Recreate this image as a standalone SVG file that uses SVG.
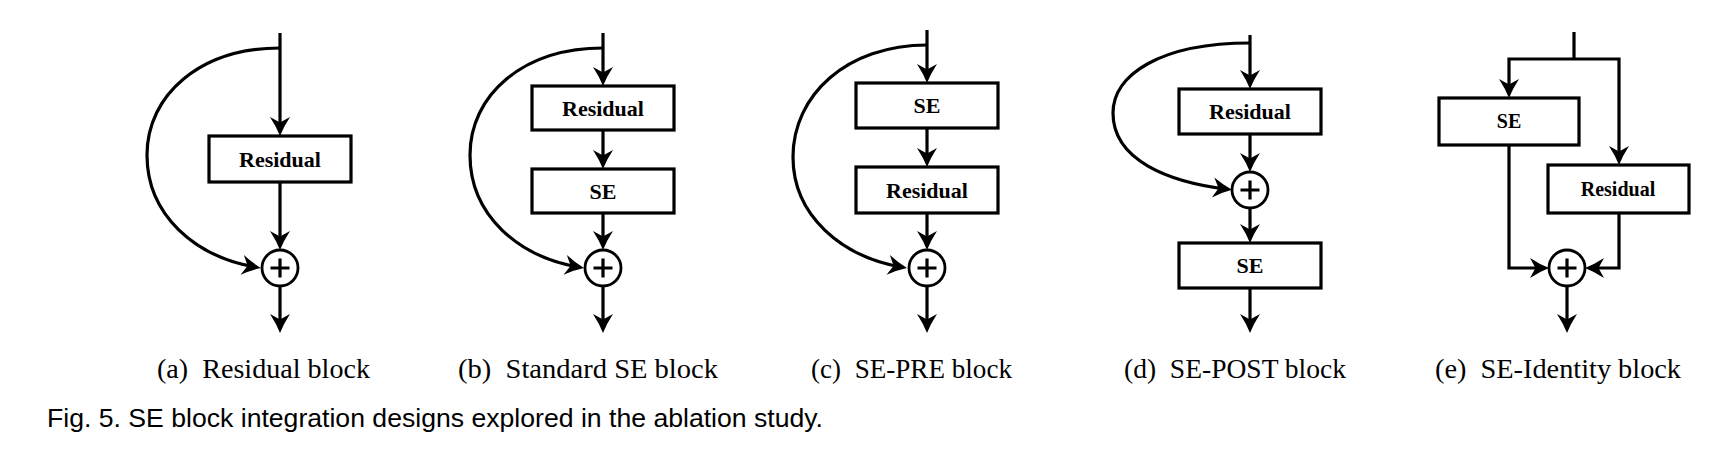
<svg xmlns="http://www.w3.org/2000/svg" width="1727" height="466" viewBox="0 0 1727 466">
<style>
.box{fill:#fff;stroke:#000;stroke-width:3.2}
.lbl{font-family:"Liberation Serif","Times New Roman",serif;font-weight:bold;font-size:22px;fill:#000;text-anchor:middle}
.lbl2{font-family:"Liberation Serif","Times New Roman",serif;font-weight:bold;font-size:20px;fill:#000;text-anchor:middle}
.sum{fill:#fff;stroke:#000;stroke-width:2.8}
.plus{stroke:#000;stroke-width:3.2;fill:none}
.c{fill:none;stroke:#000;stroke-width:3.2;stroke-linejoin:miter}
.a{marker-end:url(#ah)}
.cap{font-family:"Liberation Serif","Times New Roman",serif;font-size:28px;fill:#000;white-space:pre}
.fig{font-family:"Liberation Sans",Arial,sans-serif;font-size:25px;fill:#000}
</style>
<defs>
<marker id="ah" markerUnits="userSpaceOnUse" markerWidth="26" markerHeight="26" viewBox="0 -13 24 26" refX="15" refY="0" orient="auto">
<path d="M19,0 Q10,-3.5 0,-10 L5.5,0 L0,10 Q10,3.5 19,0 Z" fill="#000"/>
</marker>
</defs>
<rect width="1727" height="466" fill="#fff"/>

<g id="connectors">
<!-- (a) -->
<path class="c a" d="M280,33 V132"/>
<path class="c a" d="M280,48 C200,48 147,95 147,155 C147,215 195,257 257,267.4"/>
<path class="c a" d="M280,182 V246"/>
<path class="c a" d="M280,286 V329"/>
<!-- (b) -->
<path class="c a" d="M603,33 V82"/>
<path class="c a" d="M603,48 C523,48 470,95 470,155 C470,215 518,257 580,267.4"/>
<path class="c a" d="M603,130 V165"/>
<path class="c a" d="M603,213 V246"/>
<path class="c a" d="M603,286 V329"/>
<!-- (c) -->
<path class="c a" d="M927,30 V79"/>
<path class="c a" d="M927,45 C847,45 793,95 793,157 C793,215 841,257 903,267.4"/>
<path class="c a" d="M927,128 V163"/>
<path class="c a" d="M927,213 V246"/>
<path class="c a" d="M927,286 V329"/>
<!-- (d) -->
<path class="c a" d="M1250,35 V85"/>
<path class="c a" d="M1250,43 C1160,43 1113,75 1113,113 C1113,160 1168,182 1228,189.3"/>
<path class="c a" d="M1250,134 V168"/>
<path class="c a" d="M1250,208 V239"/>
<path class="c a" d="M1250,288 V329"/>
<!-- (e) -->
<path class="c" d="M1574,32 V59"/>
<path class="c a" d="M1574,59 H1509 V94"/>
<path class="c a" d="M1574,59 H1619 V161"/>
<path class="c a" d="M1509,145 V268 H1545"/>
<path class="c a" d="M1619,213 V268 H1589"/>
<path class="c a" d="M1567,286 V329"/>
</g>

<!-- (a) Residual block -->
<g id="a-residual"><rect class="box" x="209" y="136" width="142" height="46"/><text class="lbl" x="280" y="166.5">Residual</text></g>
<g id="a-sum"><circle class="sum" cx="280" cy="268" r="18"/><path class="plus" d="M270.5,268 H289.5 M280,258.5 V277.5"/></g>

<!-- (b) Standard SE block -->
<g id="b-residual"><rect class="box" x="532" y="86" width="142" height="44"/><text class="lbl" x="603" y="115.5">Residual</text></g>
<g id="b-se"><rect class="box" x="532" y="169" width="142" height="44"/><text class="lbl" x="603" y="198.5">SE</text></g>
<g id="b-sum"><circle class="sum" cx="603" cy="268" r="18"/><path class="plus" d="M593.5,268 H612.5 M603,258.5 V277.5"/></g>

<!-- (c) SE-PRE block -->
<g id="c-se"><rect class="box" x="856" y="83" width="142" height="45"/><text class="lbl" x="927" y="113">SE</text></g>
<g id="c-residual"><rect class="box" x="856" y="167" width="142" height="46"/><text class="lbl" x="927" y="197.5">Residual</text></g>
<g id="c-sum"><circle class="sum" cx="927" cy="268" r="18"/><path class="plus" d="M917.5,268 H936.5 M927,258.5 V277.5"/></g>

<!-- (d) SE-POST block -->
<g id="d-residual"><rect class="box" x="1179" y="89" width="142" height="45"/><text class="lbl" x="1250" y="119">Residual</text></g>
<g id="d-sum"><circle class="sum" cx="1250" cy="190" r="18"/><path class="plus" d="M1240.5,190 H1259.5 M1250,180.5 V199.5"/></g>
<g id="d-se"><rect class="box" x="1179" y="243" width="142" height="45"/><text class="lbl" x="1250" y="273">SE</text></g>

<!-- (e) SE-Identity block -->
<g id="e-se"><rect class="box" x="1439" y="98" width="140" height="47"/><text class="lbl2" x="1509" y="128">SE</text></g>
<g id="e-residual"><rect class="box" x="1548" y="165" width="141" height="48"/><text class="lbl2" x="1618" y="196">Residual</text></g>
<g id="e-sum"><circle class="sum" cx="1567" cy="268" r="18"/><path class="plus" d="M1557.5,268 H1576.5 M1567,258.5 V277.5"/></g>

<g id="captions">
<text class="cap" x="157" y="378" textLength="213" lengthAdjust="spacingAndGlyphs">(a)  Residual block</text>
<text class="cap" x="458" y="378" textLength="260" lengthAdjust="spacingAndGlyphs">(b)  Standard SE block</text>
<text class="cap" x="811" y="378" textLength="201" lengthAdjust="spacingAndGlyphs">(c)  SE-PRE block</text>
<text class="cap" x="1124" y="378" textLength="222" lengthAdjust="spacingAndGlyphs">(d)  SE-POST block</text>
<text class="cap" x="1435" y="378" textLength="246" lengthAdjust="spacingAndGlyphs">(e)  SE-Identity block</text>
<text class="fig" x="47" y="427" textLength="776" lengthAdjust="spacingAndGlyphs">Fig. 5. SE block integration designs explored in the ablation study.</text>
</g>
</svg>
